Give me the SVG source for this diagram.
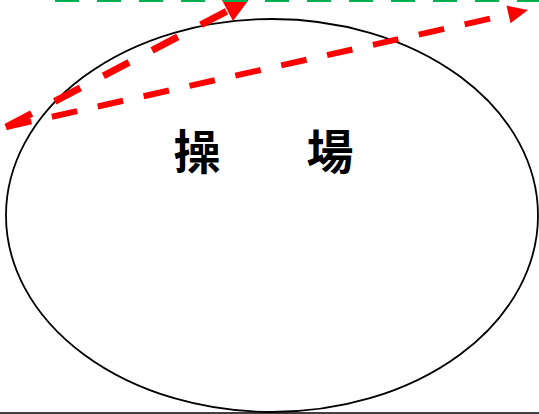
<svg xmlns="http://www.w3.org/2000/svg" width="539" height="414" viewBox="0 0 539 414">
<defs>
<style>
.red{fill:none;stroke:#ff0000;}
.head{fill:#ff0000;}
.lbl{font-family:"Noto Sans CJK TC","Noto Sans CJK SC",sans-serif;font-size:47px;font-weight:bold;fill:#000;}
</style>
</defs>
<rect width="539" height="414" fill="#ffffff"/>
<g id="field">
<ellipse cx="272" cy="215.5" rx="266" ry="196.5" fill="none" stroke="#000" stroke-width="1.8"/>
<text class="lbl" x="197" y="169" text-anchor="middle">操</text>
<text class="lbl" x="330" y="169" text-anchor="middle">場</text>
</g>
<g id="connectors">
<line class="red" x1="6" y1="127" x2="228" y2="10.5" stroke-width="7" stroke-dasharray="29 26"/>
<polygon class="head" points="249.5,-1.2 233,21 221.8,-0.2"/>
<line class="red" x1="6" y1="127" x2="509" y2="14.4" stroke-width="6" stroke-dasharray="26 21"/>
<polygon class="head" points="528,10 510.5,23.2 506.5,5.6"/>
</g>
<g id="top-line">
<line x1="55" y1="0.5" x2="539" y2="0.5" stroke="#00b050" stroke-width="3" stroke-dasharray="24 18"/>
</g>
<g id="bottom-line">
<line x1="0" y1="413" x2="539" y2="413" stroke="#000" stroke-width="1.5"/>
</g>
</svg>
